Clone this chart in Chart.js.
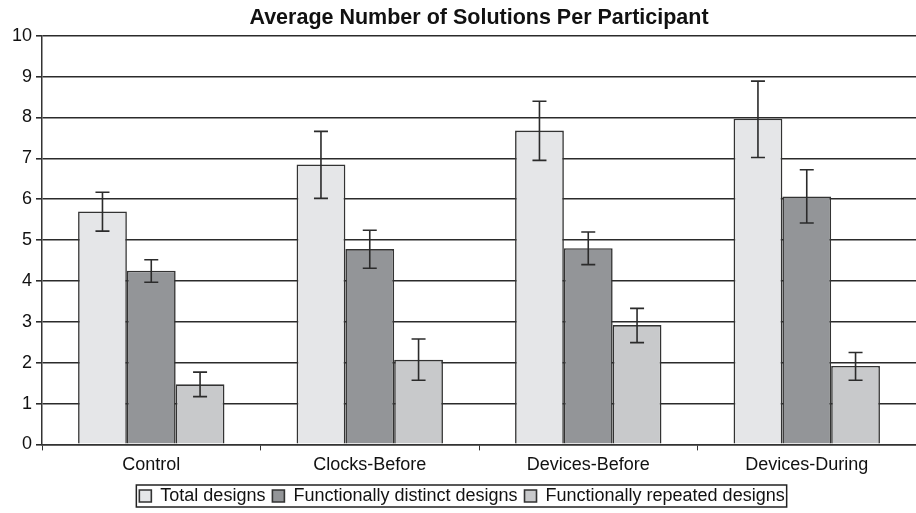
<!DOCTYPE html>
<html>
<head>
<meta charset="utf-8">
<script src="https://cdn.jsdelivr.net/npm/chart.js@4"></script>
<style>
  html, body { margin: 0; padding: 0; background: #fff; }
  #wrap { width: 916px; height: 513px; }
</style>
</head>
<body>
<div id="wrap"><canvas id="solutionsChart" width="916" height="513"></canvas></div>
<script>
var categories = ['Control', 'Clocks-Before', 'Devices-Before', 'Devices-During'];
var seriesNames = ['Total designs', 'Functionally distinct designs', 'Functionally repeated designs'];

var totalDesigns    = [5.70, 6.85, 7.68, 7.97];
var distinctDesigns = [4.25, 4.78, 4.80, 6.07];
var repeatedDesigns = [1.47, 2.07, 2.92, 1.92];

// error bar ends (upper, lower)
var totalHigh    = [6.17, 7.66, 8.40, 8.89];
var totalLow     = [5.22, 6.02, 6.95, 7.02];
var distinctHigh = [4.52, 5.24, 5.20, 6.72];
var distinctLow  = [3.97, 4.31, 4.40, 5.42];
var repeatedHigh = [1.77, 2.58, 3.33, 2.25];
var repeatedLow  = [1.17, 1.57, 2.49, 1.57];

var yTicks = [0, 1, 2, 3, 4, 5, 6, 7, 8, 9, 10];

var fontFamily = '"Liberation Sans", Arial, sans-serif';

// draws the whiskers from the high/low arrays on each bar
var errorBars = {
    id: 'errorBars',
    afterDatasetsDraw: function (chart) {
        var ctx = chart.ctx;
        var y = chart.scales.y;
        ctx.save();
        ctx.strokeStyle = '#2b2b2b';
        ctx.lineWidth = 1.6;
        chart.data.datasets.forEach(function (ds, i) {
            var meta = chart.getDatasetMeta(i);
            meta.data.forEach(function (bar, j) {
                var x = bar.x;
                var top = y.getPixelForValue(ds.errHigh[j]);
                var bot = y.getPixelForValue(ds.errLow[j]);
                var cap = 7;
                ctx.beginPath();
                ctx.moveTo(x, top); ctx.lineTo(x, bot);
                ctx.moveTo(x - cap, top); ctx.lineTo(x + cap, top);
                ctx.moveTo(x - cap, bot); ctx.lineTo(x + cap, bot);
                ctx.stroke();
            });
        });
        ctx.restore();
    }
};

// thin frame around the legend, like the original
var legendFrame = {
    id: 'legendFrame',
    afterDraw: function (chart) {
        var lg = chart.legend;
        if (!lg || !lg.legendHitBoxes.length) return;
        var boxes = lg.legendHitBoxes;
        var left = boxes[0].left - 3;
        var last = boxes[boxes.length - 1];
        var right = last.left + last.width + 2;
        var top = boxes[0].top - 2;
        var bottom = boxes[0].top + boxes[0].height + 2;
        var ctx = chart.ctx;
        ctx.save();
        ctx.strokeStyle = '#222';
        ctx.lineWidth = 1.5;
        ctx.strokeRect(left, top, right - left, bottom - top);
        ctx.restore();
    }
};

var ctx = document.getElementById('solutionsChart').getContext('2d');
var chart = new Chart(ctx, {
    type: 'bar',
    data: {
        labels: categories,
        datasets: [{
            label: seriesNames[0],
            data: totalDesigns,
            errHigh: totalHigh,
            errLow: totalLow,
            backgroundColor: '#e5e6e8',
            borderColor: '#333',
            borderWidth: 1.6
        }, {
            label: seriesNames[1],
            data: distinctDesigns,
            errHigh: distinctHigh,
            errLow: distinctLow,
            backgroundColor: '#939598',
            borderColor: '#333',
            borderWidth: 1.6
        }, {
            label: seriesNames[2],
            data: repeatedDesigns,
            errHigh: repeatedHigh,
            errLow: repeatedLow,
            backgroundColor: '#c8c9cb',
            borderColor: '#333',
            borderWidth: 1.6
        }]
    },
    options: {
        responsive: false,
        animation: false,
        layout: { padding: { left: 8, right: 0, top: 0, bottom: -2 } },
        datasets: {
            bar: { categoryPercentage: 0.67, barPercentage: 1.0 }
        },
        scales: {
            x: {
                grid: { drawOnChartArea: false, drawTicks: true, tickLength: 6, color: '#333', offset: true },
                border: { color: '#333', width: 1.5 },
                ticks: { color: '#111', font: { family: fontFamily, size: 18 }, padding: 4 }
            },
            y: {
                min: 0,
                max: 10,
                afterBuildTicks: function (axis) {
                    axis.ticks = yTicks.map(function (v) { return { value: v }; });
                },
                grid: { color: '#2b2b2b', lineWidth: 1.6, tickLength: 6 },
                border: { color: '#333', width: 1.5 },
                ticks: { color: '#111', font: { family: fontFamily, size: 18 }, padding: 4 }
            }
        },
        plugins: {
            title: {
                display: true,
                fullSize: false,
                text: 'Average Number of Solutions Per Participant',
                color: '#111',
                font: { family: fontFamily, size: 21.5, weight: 'bold' },
                padding: { top: 5, bottom: 5 }
            },
            legend: {
                position: 'bottom',
                labels: {
                    color: '#111',
                    boxWidth: 12,
                    boxHeight: 12,
                    padding: 7,
                    font: { family: fontFamily, size: 18 }
                }
            },
            tooltip: { enabled: false }
        }
    },
    plugins: [errorBars, legendFrame]
});
</script>
</body>
</html>
